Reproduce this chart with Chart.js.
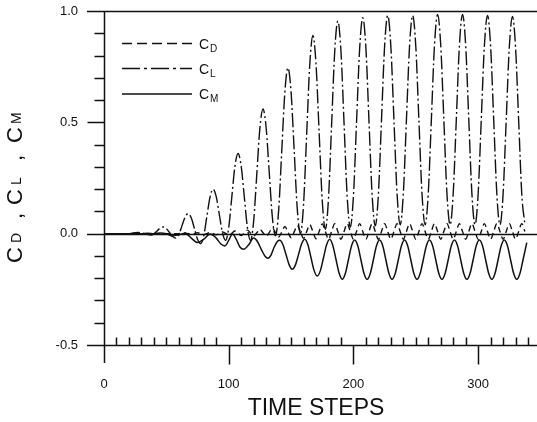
<!DOCTYPE html>
<html>
<head>
<meta charset="utf-8">
<title>CD, CL, CM vs time steps</title>
<script src="https://cdn.jsdelivr.net/npm/chart.js@4.4.1/dist/chart.umd.min.js"></script>
<style>
  html, body { margin: 0; padding: 0; background: #fff; }
  canvas { display: block; }
</style>
</head>
<body>
<canvas id="coefChart" width="537" height="422"></canvas>
<script>
// time steps shared by C_D and C_L (one row = 20 steps)
const STEPS = [
  0, 2.5, 5, 7.5, 10, 12.5, 15, 17.5,
  20, 22.5, 25, 27.5, 30, 32.5, 35, 37.5,
  40, 42.5, 45, 47.5, 50, 52.5, 55, 57.5,
  60, 62.5, 65, 67.5, 70, 72.5, 75, 77.5,
  80, 82.5, 85, 87.5, 90, 92.5, 95, 97.5,
  100, 102.5, 105, 107.5, 110, 112.5, 115, 117.5,
  120, 122.5, 125, 127.5, 130, 132.5, 135, 137.5,
  140, 142.5, 145, 147.5, 150, 152.5, 155, 157.5,
  160, 162.5, 165, 167.5, 170, 172.5, 175, 177.5,
  180, 182.5, 185, 187.5, 190, 192.5, 195, 197.5,
  200, 202.5, 205, 207.5, 210, 212.5, 215, 217.5,
  220, 222.5, 225, 227.5, 230, 232.5, 235, 237.5,
  240, 242.5, 245, 247.5, 250, 252.5, 255, 257.5,
  260, 262.5, 265, 267.5, 270, 272.5, 275, 277.5,
  280, 282.5, 285, 287.5, 290, 292.5, 295, 297.5,
  300, 302.5, 305, 307.5, 310, 312.5, 315, 317.5,
  320, 322.5, 325, 327.5, 330, 332.5, 335, 337.5
];

const CL_VALUES = [
  0, 0, 0, 0, 0, 0, 0, 0,
  0, 0.002, 0.004, 0.005, 0.003, 0, -0.004, -0.006,
  -0.001, 0.012, 0.025, 0.03, 0.023, 0.005, -0.013, -0.02,
  -0.004, 0.035, 0.074, 0.09, 0.07, 0.023, -0.025, -0.045,
  -0.009, 0.078, 0.164, 0.2, 0.166, 0.085, 0.004, -0.03,
  0.027, 0.165, 0.303, 0.36, 0.303, 0.165, 0.027, -0.03,
  0.056, 0.265, 0.474, 0.56, 0.477, 0.275, 0.074, -0.01,
  0.101, 0.368, 0.634, 0.745, 0.636, 0.373, 0.109, 0,
  0.13, 0.445, 0.76, 0.89, 0.762, 0.455, 0.148, 0.02,
  0.157, 0.488, 0.818, 0.955, 0.82, 0.493, 0.166, 0.03,
  0.168, 0.5, 0.832, 0.97, 0.833, 0.503, 0.172, 0.035,
  0.174, 0.508, 0.842, 0.98, 0.842, 0.51, 0.178, 0.04,
  0.178, 0.51, 0.842, 0.98, 0.842, 0.51, 0.178, 0.04,
  0.179, 0.513, 0.847, 0.985, 0.847, 0.513, 0.179, 0.04,
  0.179, 0.513, 0.847, 0.985, 0.847, 0.513, 0.179, 0.04,
  0.178, 0.51, 0.842, 0.98, 0.842, 0.51, 0.178, 0.04,
  0.177, 0.508, 0.838, 0.975, 0.838, 0.508, 0.177, 0.04
];

const CD_VALUES = [
  0, 0, 0, 0, 0, 0, 0, 0,
  0, 0, 0, 0, 0, 0, 0, 0,
  0, 0, 0, 0, 0, 0, 0, 0,
  0, 0.002, 0.003, 0, -0.003, 0, 0.004, 0,
  -0.004, 0, 0.006, 0, -0.005, 0.001, 0.008, 0.001,
  -0.006, 0.002, 0.012, 0.002, -0.008, 0.003, 0.016, 0.003,
  -0.01, 0.004, 0.02, 0.004, -0.012, 0.005, 0.026, 0.005,
  -0.015, 0.007, 0.032, 0.007, -0.018, 0.008, 0.037, 0.008,
  -0.021, 0.009, 0.041, 0.009, -0.023, 0.01, 0.044, 0.01,
  -0.025, 0.01, 0.045, 0.01, -0.025, 0.01, 0.045, 0.01,
  -0.025, 0.01, 0.045, 0.01, -0.025, 0.01, 0.045, 0.01,
  -0.025, 0.01, 0.045, 0.01, -0.025, 0.01, 0.045, 0.01,
  -0.025, 0.01, 0.045, 0.01, -0.025, 0.01, 0.045, 0.01,
  -0.025, 0.01, 0.045, 0.01, -0.025, 0.01, 0.045, 0.01,
  -0.025, 0.01, 0.045, 0.01, -0.025, 0.01, 0.045, 0.01,
  -0.025, 0.01, 0.045, 0.01, -0.025, 0.01, 0.045, 0.01,
  -0.025, 0.01, 0.045, 0.01, -0.025, 0.01, 0.045, 0.01
];

// C_M has its own sampling
const CM_STEPS = [
  0, 10, 20, 30, 35, 40, 45, 50, 55, 60, 65, 70, 75, 80, 85, 90,
  93.5, 97, 100, 103, 106, 109, 112, 116, 120, 123, 126.5, 129, 131.5, 134, 136.5, 139,
  141, 143.5, 146, 148.5, 151, 153.5, 156, 158.5,
  161, 163.5, 166, 168.5, 171, 173.5, 176, 178.5,
  181, 183.5, 186, 188.5, 191, 193.5, 196, 198.5,
  201, 203.5, 206, 208.5, 211, 213.5, 216, 218.5,
  221, 223.5, 226, 228.5, 231, 233.5, 236, 238.5,
  241, 243.5, 246, 248.5, 251, 253.5, 256, 258.5,
  261, 263.5, 266, 268.5, 271, 273.5, 276, 278.5,
  281, 283.5, 286, 288.5, 291, 293.5, 296, 298.5,
  301, 303.5, 306, 308.5, 311, 313.5, 316, 318.5,
  321, 323.5, 326, 328.5, 331, 333.5, 336, 339
];

const CM_VALUES = [
  0, 0, 0, 0, 0.002, 0, 0.003, 0, -0.01, -0.005, 0.002, -0.02, -0.04, -0.025, -0.002, -0.02,
  -0.045, -0.055, -0.03, -0.002, -0.025, -0.06, -0.07, -0.05, -0.02, -0.035, -0.075, -0.1, -0.11, -0.095, -0.06, -0.035,
  -0.03, -0.05, -0.095, -0.14, -0.16, -0.14, -0.093, -0.045,
  -0.025, -0.05, -0.108, -0.166, -0.19, -0.166, -0.108, -0.05,
  -0.025, -0.053, -0.115, -0.177, -0.205, -0.179, -0.117, -0.054,
  -0.028, -0.054, -0.117, -0.179, -0.205, -0.179, -0.117, -0.054,
  -0.028, -0.054, -0.117, -0.179, -0.205, -0.179, -0.117, -0.054,
  -0.028, -0.054, -0.117, -0.179, -0.205, -0.179, -0.117, -0.054,
  -0.028, -0.054, -0.117, -0.179, -0.205, -0.179, -0.117, -0.054,
  -0.028, -0.054, -0.117, -0.179, -0.205, -0.179, -0.117, -0.054,
  -0.028, -0.054, -0.117, -0.179, -0.205, -0.179, -0.117, -0.054,
  -0.028, -0.054, -0.117, -0.179, -0.205, -0.179, -0.117, -0.04
];

// axis ticks
const X_MAJOR = [0, 100, 200, 300];
const X_MINOR = [10, 20, 30, 40, 50, 60, 70, 80, 90, 110, 120, 130, 140, 150, 160, 170, 180, 190,
  210, 220, 230, 240, 250, 260, 270, 280, 290, 310, 320, 330, 340];
const Y_MAJOR = [-0.5, 0.0, 0.5, 1.0];
const Y_MINOR = [-0.4, -0.3, -0.2, -0.1, 0.1, 0.2, 0.3, 0.4, 0.6, 0.7, 0.8, 0.9];

const INK = '#111111';
const FONT = '"Liberation Sans", Arial, Helvetica, sans-serif';

const toPoints = (xs, ys) => xs.map((x, i) => ({ x: x, y: ys[i] }));

// draws "C" followed by a subscript
function drawCSub(ctx, x, y, sub, big, small, subDy) {
  ctx.font = big + 'px ' + FONT;
  ctx.fillText('C', x, y);
  const w = ctx.measureText('C').width;
  ctx.font = small + 'px ' + FONT;
  ctx.fillText(sub, x + w + 1, y + subDy);
}

const axesPlugin = {
  id: 'paperAxes',
  beforeDatasetsDraw(chart) {
    const { ctx, chartArea } = chart;
    const xs = chart.scales.x;
    const ys = chart.scales.y;
    const x0 = xs.getPixelForValue(0);
    ctx.save();
    ctx.strokeStyle = INK;
    ctx.lineWidth = 1.5;
    ctx.beginPath();
    // horizontal lines at 1.0, 0.0 and -0.5 reach out past the y axis
    [1.0, 0.0, -0.5].forEach(v => {
      const py = Math.round(ys.getPixelForValue(v)) + 0.5;
      ctx.moveTo(x0 - 17, py);
      ctx.lineTo(chartArea.right, py);
    });
    // y axis, running down past -0.5
    const ax = Math.round(x0) + 0.5;
    ctx.moveTo(ax, chartArea.top);
    ctx.lineTo(ax, ys.getPixelForValue(-0.5) + 18);
    // y ticks point outward
    Y_MAJOR.forEach(v => {
      const py = Math.round(ys.getPixelForValue(v)) + 0.5;
      ctx.moveTo(ax - 17, py);
      ctx.lineTo(ax, py);
    });
    Y_MINOR.forEach(v => {
      const py = Math.round(ys.getPixelForValue(v)) + 0.5;
      ctx.moveTo(ax - 10, py);
      ctx.lineTo(ax, py);
    });
    // x ticks: minor point up, major point down
    const by = Math.round(ys.getPixelForValue(-0.5)) + 0.5;
    X_MINOR.forEach(v => {
      const px = Math.round(xs.getPixelForValue(v)) + 0.5;
      ctx.moveTo(px, by);
      ctx.lineTo(px, by - 8);
    });
    X_MAJOR.forEach(v => {
      if (v === 0) return;
      const px = Math.round(xs.getPixelForValue(v)) + 0.5;
      ctx.moveTo(px, by);
      ctx.lineTo(px, by + 19);
    });
    ctx.stroke();
    ctx.restore();
  },
  afterDraw(chart) {
    const { ctx } = chart;
    const xs = chart.scales.x;
    const ys = chart.scales.y;
    ctx.save();
    ctx.fillStyle = INK;

    // tick labels
    ctx.font = '13px ' + FONT;
    ctx.textAlign = 'right';
    ctx.textBaseline = 'middle';
    Y_MAJOR.forEach(v => {
      ctx.fillText(v.toFixed(1), 78, ys.getPixelForValue(v));
    });
    ctx.textAlign = 'center';
    X_MAJOR.forEach(v => {
      ctx.fillText(String(v), xs.getPixelForValue(v), 384);
    });

    // x title
    ctx.textBaseline = 'alphabetic';
    ctx.font = '23px ' + FONT;
    ctx.fillText('TIME STEPS', 316, 415);

    // y title, rotated
    ctx.save();
    ctx.translate(22, 263);
    ctx.rotate(-Math.PI / 2);
    ctx.textAlign = 'left';
    const parts = [['C', 0, 22, 0], ['D', 20, 14, -1], [',', 44, 22, 0],
      ['C', 58, 22, 0], ['L', 78, 14, -1], [',', 102, 22, 0],
      ['C', 120, 22, 0], ['M', 139, 14, -1]];
    parts.forEach(([t, off, size, dy]) => {
      ctx.font = size + 'px ' + FONT;
      ctx.fillText(t, off, dy);
    });
    ctx.restore();

    // legend
    const rows = [['D', 43.5], ['L', 68.5], ['M', 94]];
    ctx.textAlign = 'left';
    chart.data.datasets.forEach((ds, i) => {
      const [sub, ly] = rows[i];
      ctx.save();
      ctx.strokeStyle = ds.borderColor;
      ctx.lineWidth = ds.borderWidth;
      ctx.setLineDash(ds.legendDash || []);
      ctx.beginPath();
      ctx.moveTo(122, ly);
      ctx.lineTo(192, ly);
      ctx.stroke();
      ctx.restore();
      drawCSub(ctx, 199, ly + 5, sub, 14, 10, 3);
    });
    ctx.restore();
  }
};

const ctx = document.getElementById('coefChart');
new Chart(ctx, {
  type: 'line',
  data: {
    datasets: [{
      label: 'CD',
      data: toPoints(STEPS, CD_VALUES),
      borderColor: INK,
      borderWidth: 1.4,
      borderDash: [6, 4],
      legendDash: [10, 5]
    },
    {
      label: 'CL',
      data: toPoints(STEPS, CL_VALUES),
      borderColor: INK,
      borderWidth: 1.4,
      borderDash: [14, 3, 2, 3],
      legendDash: [18, 4, 3, 4]
    },
    {
      label: 'CM',
      data: toPoints(CM_STEPS, CM_VALUES),
      borderColor: INK,
      borderWidth: 1.5
    }]
  },
  options: {
    responsive: false,
    animation: false,
    devicePixelRatio: 1,
    layout: { padding: { left: 104, top: 11, right: 0, bottom: 77 } },
    elements: {
      point: { radius: 0 },
      line: { cubicInterpolationMode: 'monotone', fill: false }
    },
    scales: {
      x: { type: 'linear', min: 0, max: 347.2, display: false },
      y: { type: 'linear', min: -0.5, max: 1.0, display: false }
    },
    plugins: {
      legend: { display: false },
      tooltip: { enabled: false }
    }
  },
  plugins: [axesPlugin]
});
</script>
</body>
</html>
